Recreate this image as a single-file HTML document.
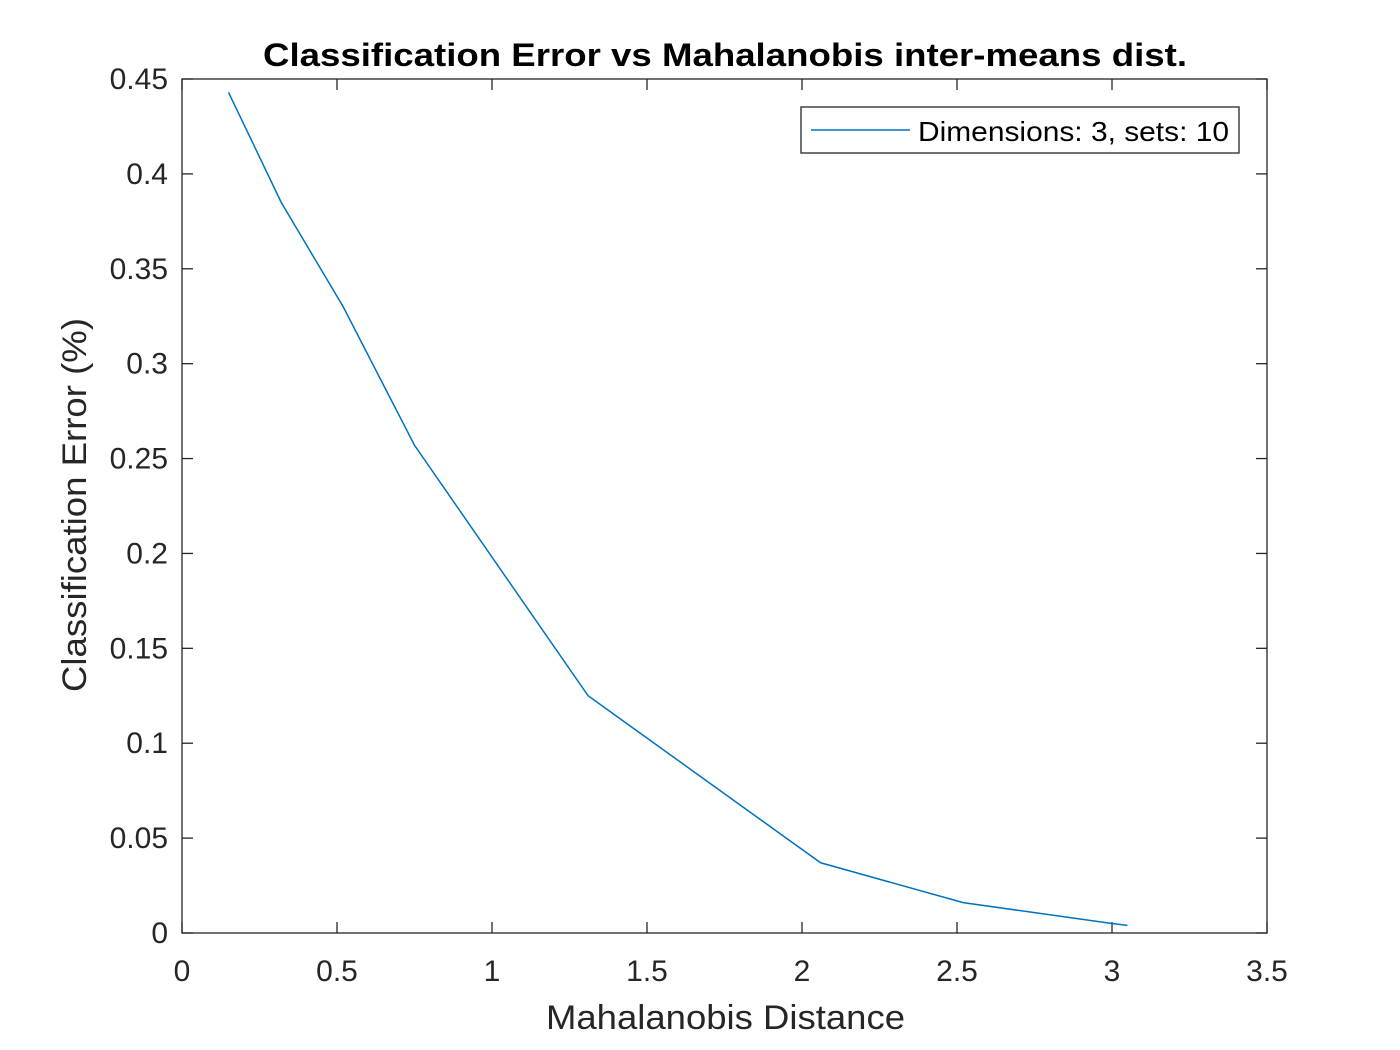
<!DOCTYPE html>
<html><head><meta charset="utf-8"><style>body{margin:0;background:#fff}svg{display:block}</style></head>
<body>
<svg id="chart" width="1400" height="1050" xmlns="http://www.w3.org/2000/svg" font-family="Liberation Sans, sans-serif">
<rect width="1400" height="1050" fill="#fff"/>
<g id="ticks"></g>
<rect x="182" y="79" width="1085" height="854" fill="none" stroke="#262626" stroke-width="1.3"/>
<polyline id="series" fill="none" stroke="#0072BD" stroke-width="1.5"/>
<text x="263" y="66" font-size="32" font-weight="bold" fill="#000" textLength="924" lengthAdjust="spacingAndGlyphs">Classification Error vs Mahalanobis inter-means dist.</text>
<text x="546" y="1029" font-size="34" fill="#262626" textLength="359" lengthAdjust="spacingAndGlyphs">Mahalanobis Distance</text>
<text transform="translate(86,692) rotate(-90)" font-size="34" fill="#262626" textLength="374" lengthAdjust="spacingAndGlyphs">Classification Error (%)</text>
<g>
<rect x="801" y="107" width="438" height="46" fill="#fff" stroke="#262626" stroke-width="1.3"/>
<line x1="811" y1="130" x2="910" y2="130" stroke="#0072BD" stroke-width="1.5"/>
<text x="918" y="141" font-size="28" fill="#000" textLength="311" lengthAdjust="spacingAndGlyphs">Dimensions: 3, sets: 10</text>
</g>
</svg>
<script>
const xs=[0.15,0.32,0.52,0.75,1.31,2.06,2.52,3.0,3.05];
const ys=[0.443,0.385,0.33,0.257,0.125,0.037,0.016,0.005,0.004];
const xTicks=[0,0.5,1,1.5,2,2.5,3,3.5];
const xTickLabels=["0","0.5","1","1.5","2","2.5","3","3.5"];
const yTicks=[0,0.05,0.1,0.15,0.2,0.25,0.3,0.35,0.4,0.45];
const yTickLabels=["0","0.05","0.1","0.15","0.2","0.25","0.3","0.35","0.4","0.45"];
const X=v=>182+v/3.5*1085, Y=v=>933-v/0.45*854;
const NS="http://www.w3.org/2000/svg", g=document.getElementById('ticks');
function mk(t,a){const e=document.createElementNS(NS,t);for(const k in a)e.setAttribute(k,a[k]);g.appendChild(e);return e;}
xTicks.forEach((v,i)=>{const x=X(v);
mk('line',{x1:x,y1:933,x2:x,y2:922,stroke:'#262626','stroke-width':1.3});
mk('line',{x1:x,y1:79,x2:x,y2:90,stroke:'#262626','stroke-width':1.3});
const t=mk('text',{x:x,y:981,'text-anchor':'middle','font-size':30,fill:'#262626'});t.textContent=xTickLabels[i];

});
yTicks.forEach((v,i)=>{const y=Y(v);
mk('line',{x1:182,y1:y,x2:193,y2:y,stroke:'#262626','stroke-width':1.3});
mk('line',{x1:1267,y1:y,x2:1256,y2:y,stroke:'#262626','stroke-width':1.3});
const t=mk('text',{x:168,y:y+10,'text-anchor':'end','font-size':30,fill:'#262626'});t.textContent=yTickLabels[i];

});
document.getElementById('series').setAttribute('points',xs.map((v,i)=>X(v)+','+Y(ys[i])).join(' '));
</script>
</body></html>
